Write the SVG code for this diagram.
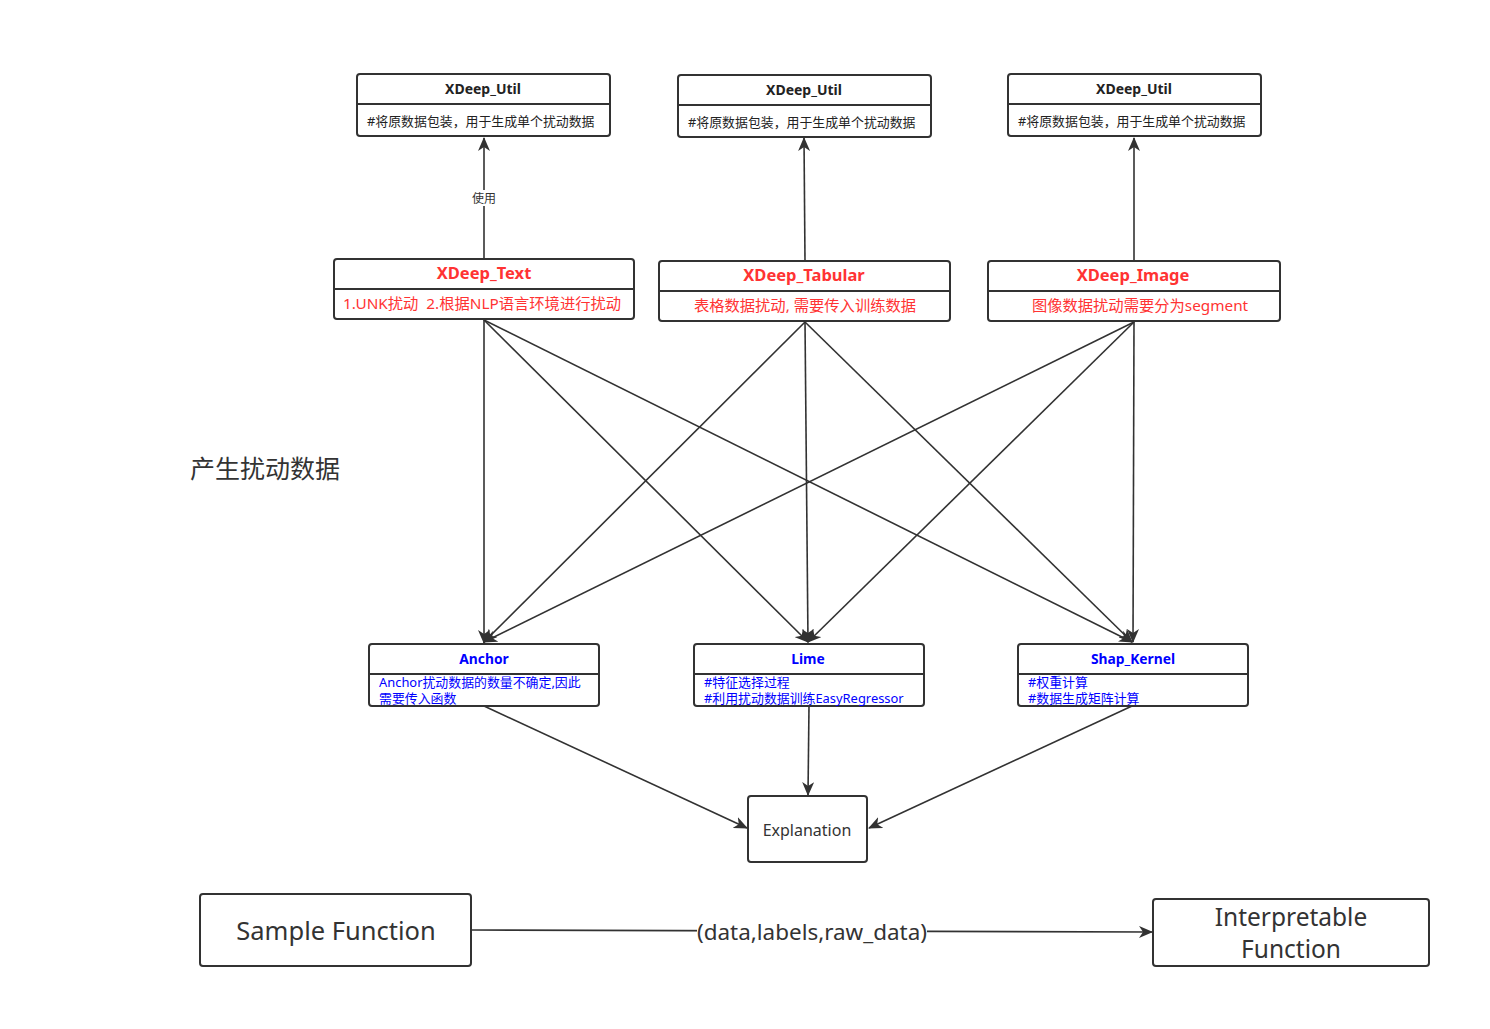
<svg xmlns="http://www.w3.org/2000/svg" width="1490" height="1029" viewBox="0 0 1490 1029">
<style>
  .box { fill: #fff; stroke: #323232; stroke-width: 2; }
  .div { stroke: #323232; stroke-width: 2; }
  .t { font-family: "Noto Sans", "Noto Sans CJK SC", sans-serif; }
  .head { font-size: 14px; font-weight: bold; fill: #222; text-anchor: middle; }
  .note { font-size: 12.9px; fill: #222; }
  .rhead { font-size: 16.5px; font-weight: bold; fill: #ff3333; text-anchor: middle; }
  .rnote { font-size: 15.3px; fill: #ff3333; }
  .bhead { font-size: 13.8px; font-weight: bold; fill: #0000ff; text-anchor: middle; }
  .bnote { font-size: 12.9px; fill: #0000ff; }
  .edge { fill: none; stroke: #323232; stroke-width: 1.6; marker-end: url(#arr); }
</style>
<defs>
  <marker id="arr" viewBox="0 0 14 12" refX="13" refY="6" markerWidth="14" markerHeight="12" markerUnits="userSpaceOnUse" orient="auto">
    <path d="M0,0 L14,6 L0,12 L4,6 Z" fill="#323232"/>
  </marker>
</defs>
<rect width="1490" height="1029" fill="#fff"/>

<g id="connectors">
  <path class="edge" d="M484,259 L484,138"/>
  <rect x="468" y="190" width="32" height="16" fill="#fff"/>
  <text class="t" x="484" y="203" font-size="12" fill="#333" text-anchor="middle">使用</text>
  <path class="edge" d="M805,261 L804,138"/>
  <path class="edge" d="M1134,261 L1134,138"/>

  <path class="edge" d="M484,320 L484,643"/>
  <path class="edge" d="M484,320 L808,642"/>
  <path class="edge" d="M484,320 L1132,642"/>
  <path class="edge" d="M805,322 L484,642"/>
  <path class="edge" d="M805,322 L808,642"/>
  <path class="edge" d="M805,322 L1132,642"/>
  <path class="edge" d="M1134,322 L484,642"/>
  <path class="edge" d="M1134,322 L808,642"/>
  <path class="edge" d="M1134,322 L1133,642"/>

  <path class="edge" d="M484,706 L747,828"/>
  <path class="edge" d="M809,706 L808,795"/>
  <path class="edge" d="M1132,706 L869,828"/>

  <path class="edge" d="M472,930 L1152,932"/>
  <rect x="697" y="918" width="230" height="28" fill="#fff"/>
  <text class="t" x="812" y="940" font-size="21.5" fill="#333" text-anchor="middle" textLength="230" lengthAdjust="spacingAndGlyphs">(data,labels,raw_data)</text>
</g>

<g id="util1">
  <rect class="box" x="357" y="74" width="253" height="62" rx="3"/>
  <line class="div" x1="357" y1="104" x2="610" y2="104"/>
  <text class="t head" x="483" y="94">XDeep_Util</text>
  <text class="t note" x="367" y="126">#将原数据包装，用于生成单个扰动数据</text>
</g>
<g id="util2">
  <rect class="box" x="678" y="75" width="253" height="62" rx="3"/>
  <line class="div" x1="678" y1="105" x2="931" y2="105"/>
  <text class="t head" x="804" y="95">XDeep_Util</text>
  <text class="t note" x="688" y="127">#将原数据包装，用于生成单个扰动数据</text>
</g>
<g id="util3">
  <rect class="box" x="1008" y="74" width="253" height="62" rx="3"/>
  <line class="div" x1="1008" y1="104" x2="1261" y2="104"/>
  <text class="t head" x="1134" y="94">XDeep_Util</text>
  <text class="t note" x="1018" y="126">#将原数据包装，用于生成单个扰动数据</text>
</g>

<g id="xdeep-text">
  <rect class="box" x="334" y="259" width="300" height="60" rx="3"/>
  <line class="div" x1="334" y1="289" x2="634" y2="289"/>
  <text class="t rhead" x="484" y="279">XDeep_Text</text>
  <text class="t rnote" x="343" y="309" xml:space="preserve">1.UNK扰动  2.根据NLP语言环境进行扰动</text>
</g>
<g id="xdeep-tabular">
  <rect class="box" x="659" y="261" width="291" height="60" rx="3"/>
  <line class="div" x1="659" y1="291" x2="950" y2="291"/>
  <text class="t rhead" x="804" y="281">XDeep_Tabular</text>
  <text class="t rnote" x="805" y="311" text-anchor="middle">表格数据扰动, 需要传入训练数据</text>
</g>
<g id="xdeep-image">
  <rect class="box" x="988" y="261" width="292" height="60" rx="3"/>
  <line class="div" x1="988" y1="291" x2="1280" y2="291"/>
  <text class="t rhead" x="1133" y="281">XDeep_Image</text>
  <text class="t rnote" x="1140" y="311" text-anchor="middle">图像数据扰动需要分为segment</text>
</g>

<text class="t" x="190" y="478" font-size="25" fill="#333">产生扰动数据</text>

<g id="anchor">
  <rect class="box" x="369" y="644" width="230" height="62" rx="3"/>
  <line class="div" x1="369" y1="674" x2="599" y2="674"/>
  <text class="t bhead" x="484" y="664">Anchor</text>
  <text class="t bnote" x="379" y="687">Anchor扰动数据的数量不确定,因此</text>
  <text class="t bnote" x="379" y="703">需要传入函数</text>
</g>
<g id="lime">
  <rect class="box" x="694" y="644" width="230" height="62" rx="3"/>
  <line class="div" x1="694" y1="674" x2="924" y2="674"/>
  <text class="t bhead" x="808" y="664">Lime</text>
  <text class="t bnote" x="704" y="687">#特征选择过程</text>
  <text class="t bnote" x="704" y="703">#利用扰动数据训练EasyRegressor</text>
</g>
<g id="shap-kernel">
  <rect class="box" x="1018" y="644" width="230" height="62" rx="3"/>
  <line class="div" x1="1018" y1="674" x2="1248" y2="674"/>
  <text class="t bhead" x="1133" y="664">Shap_Kernel</text>
  <text class="t bnote" x="1028" y="687">#权重计算</text>
  <text class="t bnote" x="1028" y="703">#数据生成矩阵计算</text>
</g>

<g id="explanation">
  <rect class="box" x="748" y="796" width="119" height="66" rx="3"/>
  <text class="t" x="807" y="836" font-size="16" fill="#333" text-anchor="middle">Explanation</text>
</g>

<g id="sample-function">
  <rect class="box" x="200" y="894" width="271" height="72" rx="3"/>
  <text class="t" x="336" y="940" font-size="25.5" fill="#333" text-anchor="middle">Sample Function</text>
</g>
<g id="interpretable-function">
  <rect class="box" x="1153" y="899" width="276" height="67" rx="3"/>
  <text class="t" x="1291" y="926" font-size="24.5" fill="#333" text-anchor="middle">Interpretable</text>
  <text class="t" x="1291" y="958" font-size="24.5" fill="#333" text-anchor="middle">Function</text>
</g>
</svg>
